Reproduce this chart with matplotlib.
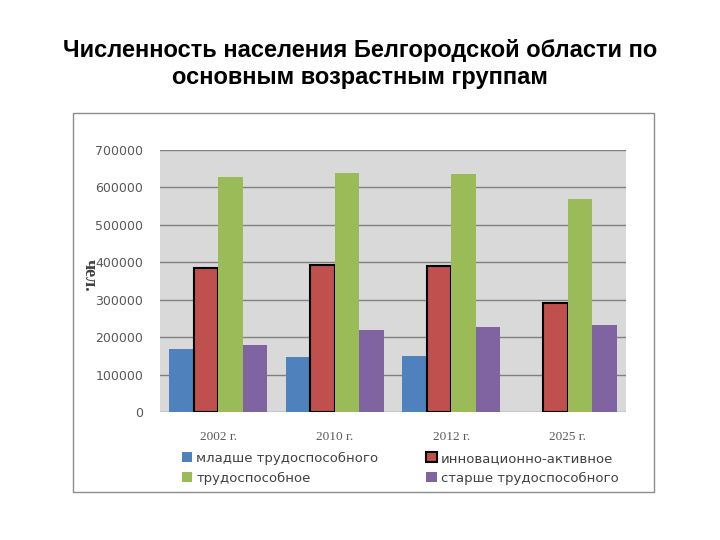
import numpy as np
import matplotlib.pyplot as plt
from matplotlib.patches import Rectangle

years = ['2002 г.', '2010 г.', '2012 г.', '2025 г.']
younger = [168000, 147000, 150000, 0]
innov = [385000, 393000, 390000, 291000]
working = [628000, 638000, 636000, 569000]
older = [179000, 219000, 227000, 232000]
names = ['младше трудоспособного', 'инновационно-активное', 'трудоспособное', 'старше трудоспособного']

fig = plt.figure(figsize=(7.2, 5.4), dpi=100)
fig.patch.set_facecolor('white')

# outer chart frame
fig.patches.append(Rectangle((73/720, 1-492/540), 581/720, 379/540, transform=fig.transFigure,
                             fill=False, edgecolor='#8c8c8c', linewidth=1))

fig.text(0.5, 1-50/540, 'Численность населения Белгородской области по', ha='center', va='center',
         fontsize=17, fontweight='bold', family='Liberation Sans')
fig.text(0.5, 1-78/540, 'основным возрастным группам', ha='center', va='center',
         fontsize=17, fontweight='bold', family='Liberation Sans')

ax = fig.add_axes([160/720, 1-412/540, 466/720, 262/540])
ax.set_facecolor('#d9d9d9')

x = np.arange(len(years))
w = 0.21
b1 = ax.bar(x - 1.5*w, younger, w, color='#4f81bd', label=names[0])
b2 = ax.bar(x - 0.5*w, innov, w, color='#c0504d', edgecolor='black', linewidth=1.5, label=names[1])
b3 = ax.bar(x + 0.5*w, working, w, color='#9bbb59', label=names[2])
b4 = ax.bar(x + 1.5*w, older, w, color='#8064a2', label=names[3])

ax.set_ylim(0, 700000)
ax.set_xlim(-0.5, 3.5)
ax.set_yticks(np.arange(0, 700001, 100000))
ax.yaxis.grid(True, color='#808080', linewidth=1)
ax.set_axisbelow(True)
ax.tick_params(axis='y', length=0, pad=12, labelsize=9, labelcolor='#595959')
ax.tick_params(axis='x', length=0, pad=14, labelsize=9.5, labelcolor='#595959')
ax.set_xticks(x)
ax.set_xticklabels(years, family='Liberation Serif')
for s in ax.spines.values():
    s.set_visible(False)

fig.text(89/720, 1-275/540, 'чел.', rotation=270, ha='center', va='center',
         fontsize=13, fontweight='bold', family='Liberation Serif', color='#404040')

fig.legend([b1, b3, b2, b4], [names[0], names[2], names[1], names[3]], ncol=2,
           loc='upper left', bbox_to_anchor=(170/720, 1-440/540), frameon=False,
           fontsize=9.5, handlelength=0.8, handleheight=0.8, handletextpad=0.3,
           columnspacing=3.6, labelspacing=0.5, labelcolor='#404040')

fig.savefig('out.png', dpi=100)
